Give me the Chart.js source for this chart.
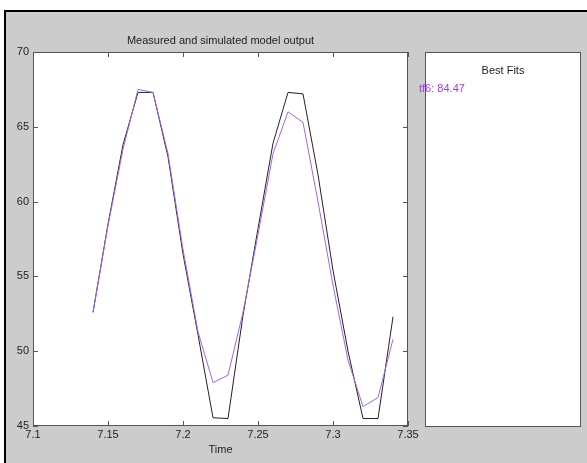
<!DOCTYPE html>
<html>
<head>
<meta charset="utf-8">
<script src="https://cdn.jsdelivr.net/npm/chart.js@4.4.1/dist/chart.umd.min.js"></script>
<style>
  html, body { margin: 0; padding: 0; background: #ffffff; }
  canvas { display: block; }
</style>
</head>
<body>
<canvas id="c" width="587" height="463"></canvas>
<script>
// ---- data ----
const times = [7.14, 7.15, 7.16, 7.17, 7.18, 7.19, 7.20, 7.21, 7.22, 7.23, 7.24,
               7.25, 7.26, 7.27, 7.28, 7.29, 7.30, 7.31, 7.32, 7.33, 7.34];
const measured = [52.6, 58.5, 63.8, 67.3, 67.3, 63.0, 56.5, 51.1, 45.55, 45.5, 52.4,
                  58.2, 63.9, 67.3, 67.2, 61.8, 55.4, 50.0, 45.5, 45.5, 52.3];
const simulated = [52.6, 58.4, 63.5, 67.5, 67.3, 63.2, 56.8, 51.3, 47.9, 48.4, 52.6,
                   57.8, 63.2, 66.0, 65.3, 60.0, 54.4, 49.4, 46.3, 46.9, 50.8];
const xTicks = [7.1, 7.15, 7.2, 7.25, 7.3, 7.35];
const yTicks = [45, 50, 55, 60, 65, 70];
const titleText = 'Measured and simulated model output';
const xLabel = 'Time';
const legendTitle = 'Best Fits';
const fitLabel = 'tf6: 84.47';

const FONT = '"Liberation Sans", Arial, sans-serif';
const GRAY = '#cccccc';
const PURPLE_LINE = '#a268d8';
const PURPLE_TEXT = '#9a3fdc';

const decor = {
  id: 'decor',
  beforeDraw(chart) {
    const ctx = chart.ctx;
    const a = chart.chartArea;
    ctx.save();
    ctx.fillStyle = '#ffffff';
    ctx.fillRect(0, 0, chart.width, chart.height);
    ctx.fillStyle = GRAY;
    ctx.fillRect(4, 10, chart.width - 4, chart.height - 10);
    ctx.strokeStyle = '#000000';
    ctx.lineWidth = 2;
    ctx.beginPath();
    ctx.moveTo(5, chart.height);
    ctx.lineTo(5, 11);
    ctx.lineTo(chart.width, 11);
    ctx.stroke();
    // plot area
    ctx.fillStyle = '#ffffff';
    ctx.fillRect(a.left, a.top, a.right - a.left, a.bottom - a.top);
    // legend panel
    ctx.fillRect(425, a.top, 156, a.bottom - a.top);
    ctx.strokeStyle = '#555555';
    ctx.lineWidth = 1;
    ctx.strokeRect(425.5, a.top + 0.5, 155, a.bottom - a.top);
    ctx.restore();
  },
  afterDraw(chart) {
    const ctx = chart.ctx;
    const a = chart.chartArea;
    const xs = chart.scales.x, ys = chart.scales.y;
    ctx.save();
    ctx.strokeStyle = '#555555';
    ctx.lineWidth = 1;
    ctx.strokeRect(Math.round(a.left) + 0.5, Math.round(a.top) + 0.5,
                   Math.round(a.right - a.left) - 1, Math.round(a.bottom - a.top) - 1);
    ctx.beginPath();
    const T = 5;
    xTicks.forEach(v => {
      const px = Math.round(xs.getPixelForValue(v)) + 0.5;
      ctx.moveTo(px, a.bottom); ctx.lineTo(px, a.bottom - T);
      ctx.moveTo(px, a.top); ctx.lineTo(px, a.top + T);
    });
    yTicks.forEach(v => {
      const py = Math.round(ys.getPixelForValue(v)) + 0.5;
      ctx.moveTo(a.left, py); ctx.lineTo(a.left + T, py);
      ctx.moveTo(a.right, py); ctx.lineTo(a.right - T, py);
    });
    ctx.stroke();
    ctx.fillStyle = '#222222';
    ctx.font = '11px ' + FONT;
    ctx.textAlign = 'center';
    ctx.textBaseline = 'middle';
    ctx.fillText(titleText, (a.left + a.right) / 2, 41);
    ctx.fillText(xLabel, (a.left + a.right) / 2, 450);
    ctx.fillText(legendTitle, 503, 71);
    ctx.fillStyle = PURPLE_TEXT;
    ctx.textAlign = 'left';
    ctx.fillText(fitLabel, 419, 89);
    ctx.restore();
  }
};

const fmt = v => parseFloat(Number(v).toFixed(2)).toString();

new Chart(document.getElementById('c'), {
  type: 'line',
  data: {
    datasets: [
      {
        label: 'tf6',
        data: times.map((t, i) => ({ x: t, y: simulated[i] })),
        borderColor: PURPLE_LINE,
        borderWidth: 1,
        pointRadius: 0,
        tension: 0,
        fill: false
      },
      {
        label: 'Measured',
        data: times.map((t, i) => ({ x: t, y: measured[i] })),
        borderColor: '#222222',
        borderWidth: 1,
        pointRadius: 0,
        tension: 0,
        fill: false
      }
    ]
  },
  options: {
    responsive: false,
    animation: false,
    devicePixelRatio: 1,
    layout: { padding: { left: 0, top: 52, right: 179, bottom: 0 } },
    plugins: { legend: { display: false }, tooltip: { enabled: false }, title: { display: false } },
    scales: {
      x: {
        type: 'linear',
        min: 7.1, max: 7.35,
        afterFit: s => { s.height = 37; },
        afterBuildTicks: s => { s.ticks = xTicks.map(v => ({ value: v })); },
        grid: { display: false, drawTicks: false },
        border: { display: false },
        ticks: {
          autoSkip: false, maxRotation: 0, padding: 2,
          color: '#222222', font: { family: FONT, size: 11 },
          callback: v => fmt(v)
        }
      },
      y: {
        type: 'linear',
        min: 45, max: 70,
        afterFit: s => { s.width = 33; },
        afterBuildTicks: s => { s.ticks = yTicks.map(v => ({ value: v })); },
        grid: { display: false, drawTicks: false },
        border: { display: false },
        ticks: {
          autoSkip: false, padding: 4,
          color: '#222222', font: { family: FONT, size: 11 },
          callback: v => fmt(v)
        }
      }
    }
  },
  plugins: [decor]
});
</script>
</body>
</html>
